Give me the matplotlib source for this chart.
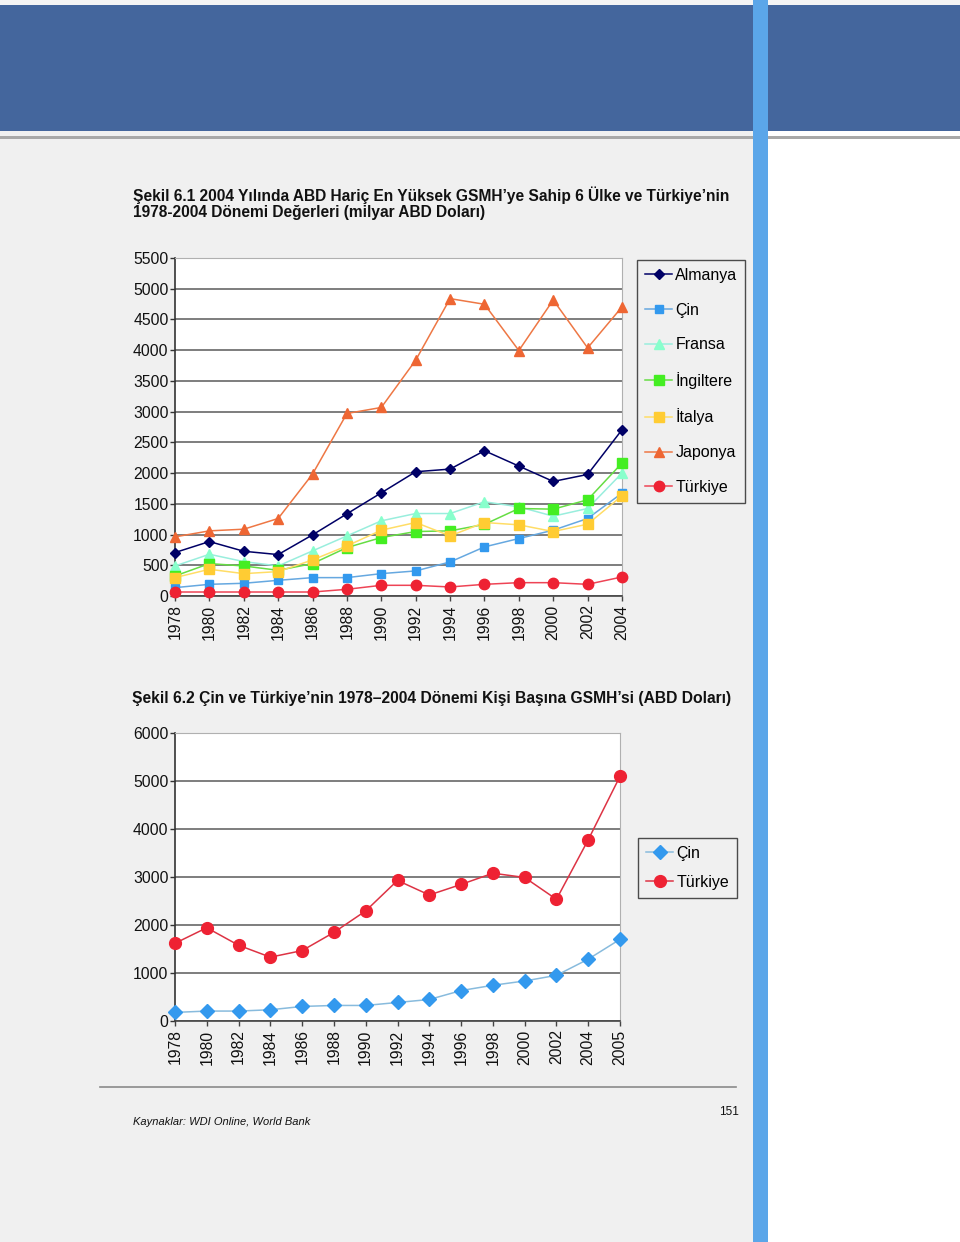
import matplotlib
matplotlib.use("Agg")
import matplotlib.pyplot as plt
from matplotlib.patches import Rectangle

plt.rcParams['font.family'] = ['Liberation Sans', 'DejaVu Sans']

# ---------------- data ----------------
years1 = ["1978", "1980", "1982", "1984", "1986", "1988", "1990",
          "1992", "1994", "1996", "1998", "2000", "2002", "2004"]
almanya = [707, 886, 728, 674, 995, 1337, 1679, 2022, 2065, 2364, 2114, 1864, 1978, 2705]
cin = [136, 190, 207, 255, 299, 299, 364, 408, 554, 799, 935, 1071, 1261, 1674]
fransa = [489, 679, 560, 489, 734, 978, 1223, 1342, 1342, 1533, 1451, 1299, 1424, 2000]
ingiltere = [326, 527, 489, 418, 527, 788, 951, 1049, 1060, 1165, 1424, 1413, 1565, 2163]
italya = [299, 435, 364, 397, 587, 815, 1071, 1196, 978, 1196, 1158, 1049, 1169, 1630]
japonya = [962, 1060, 1087, 1261, 1984, 2970, 3068, 3837, 4839, 4747, 3994, 4817, 4037, 4704]
turkiye = [65, 65, 65, 65, 65, 109, 174, 174, 147, 190, 217, 217, 190, 310]

years2 = ["1978", "1980", "1982", "1984", "1986", "1988", "1990", "1992",
          "1994", "1996", "1998", "2000", "2002", "2004", "2005"]
cin_pc = [179, 207, 207, 234, 303, 324, 324, 386, 448, 634, 744, 834, 951, 1288, 1701]
turkiye_pc = [1619, 1943, 1578, 1330, 1467, 1846, 2294, 2928, 2625, 2845, 3079, 2990, 2535, 3775, 5098]

W, H = 960, 1242
fig = plt.figure(figsize=(W / 100, H / 100), dpi=100, facecolor="#f0f0f0")

# ---------------- page background ----------------
bg = fig.add_axes([0, 0, 1, 1])
bg.set_xlim(0, W)
bg.set_ylim(H, 0)
bg.axis("off")
bg.add_patch(Rectangle((0, 0), W, 5, color="#f4f4f4", lw=0))
bg.add_patch(Rectangle((768, 131), W - 768, H - 131, color="white", lw=0))
bg.add_patch(Rectangle((0, 5), W, 126, color="#44669d", lw=0))
bg.add_patch(Rectangle((0, 136), W, 3, color="#a8a8a8", lw=0))
bg.add_patch(Rectangle((753, 0), 15, H, color="#5ba6e9", lw=0))
bg.plot([100, 736], [1087, 1087], color="#8a8a8a", lw=1.2)

bg.text(133, 195, "Şekil 6.1 2004 Yılında ABD Hariç En Yüksek GSMH\u2019ye Sahip 6 Ülke ve Türkiye\u2019nin",
        fontsize=11.2, fontweight="bold", va="center", ha="left", color="#111111")
bg.text(133, 213, "1978-2004 Dönemi Değerleri (milyar ABD Doları)",
        fontsize=11.2, fontweight="bold", va="center", ha="left", color="#111111")
bg.text(132, 698, "Şekil 6.2 Çin ve Türkiye\u2019nin 1978\u20132004 Dönemi Kişi Başına GSMH\u2019si (ABD Doları)",
        fontsize=11.25, fontweight="bold", va="center", ha="left", color="#111111")
bg.text(133, 1122, "Kaynaklar: WDI Online, World Bank", fontsize=8, style="italic",
        va="center", ha="left", color="#111111")
bg.text(739, 1112, "151", fontsize=8.5, va="center", ha="right", color="#111111")


def style_axes(ax, ymax, step, labels):
    ax.set_facecolor("white")
    n = len(labels)
    ax.set_xlim(0, n - 1)
    ax.set_ylim(0, ymax)
    ax.set_xticks(range(n))
    ax.set_xticklabels(labels, rotation=90, fontsize=11.3)
    ax.set_yticks(range(0, ymax + 1, step))
    ax.set_yticklabels([str(v) for v in range(0, ymax + 1, step)], fontsize=11.3)
    ax.yaxis.grid(True, color="#5a5a5a", lw=1.1)
    ax.set_axisbelow(True)
    for s in ["top", "right"]:
        ax.spines[s].set_color("#b0b0b0")
        ax.spines[s].set_linewidth(0.8)
    ax.spines["left"].set_color("#333333")
    ax.spines["left"].set_linewidth(1.2)
    ax.spines["bottom"].set_color("#444444")
    ax.spines["bottom"].set_linewidth(1.2)
    ax.tick_params(axis="y", length=3.6, width=1, color="#333333", pad=1.0, labelcolor="#111111")
    ax.tick_params(axis="x", length=3.6, width=1, color="#444444", pad=2.5, labelcolor="#111111")


# ---------------- chart 1 ----------------
ax1 = fig.add_axes([175 / W, 1 - 596 / H, 447 / W, 338 / H])
style_axes(ax1, 5500, 500, years1)
x1 = range(len(years1))
series1 = [
    ("Almanya", almanya, "#000066", "#000066", "D", 5),
    ("Çin", cin, "#66a8e0", "#3399ee", "s", 5.5),
    ("Fransa", fransa, "#99eedd", "#88ffcc", "^", 7),
    ("İngiltere", ingiltere, "#66dd44", "#44ee22", "s", 7.5),
    ("İtalya", italya, "#ffdd66", "#ffcc33", "s", 7.5),
    ("Japonya", japonya, "#ee7744", "#ee6633", "^", 7),
    ("Türkiye", turkiye, "#ee4455", "#ee2233", "o", 7.5),
]
handles1 = []
for name, vals, lc, mc, mk, ms in series1:
    h, = ax1.plot(x1, vals, color=lc, lw=1.1, marker=mk, markersize=ms,
                  markerfacecolor=mc, markeredgecolor=mc, clip_on=False, label=name, zorder=3)
    handles1.append(h)
leg1 = fig.legend(handles=handles1, loc="upper left",
                  bbox_to_anchor=(637 / W, 1 - 260 / H), frameon=True, fancybox=False,
                  fontsize=11.5, labelspacing=1.23, handlelength=1.7, handletextpad=0.2,
                  borderpad=0.5, borderaxespad=0)
leg1.get_frame().set_edgecolor("#222222")
leg1.get_frame().set_facecolor("#f0f0f0")
leg1.get_frame().set_linewidth(1)

# ---------------- chart 2 ----------------
ax2 = fig.add_axes([175 / W, 1 - 1021 / H, 445 / W, 288 / H])
style_axes(ax2, 6000, 1000, years2)
x2 = range(len(years2))
h_c, = ax2.plot(x2, cin_pc, color="#88bbdd", lw=1.1, marker="D", markersize=7,
                markerfacecolor="#3399ee", markeredgecolor="#3399ee", clip_on=False,
                label="Çin", zorder=3)
h_t, = ax2.plot(x2, turkiye_pc, color="#dd3344", lw=1.1, marker="o", markersize=8.5,
                markerfacecolor="#ee2233", markeredgecolor="#ee2233", clip_on=False,
                label="Türkiye", zorder=3)
leg2 = fig.legend(handles=[h_c, h_t], loc="upper left",
                  bbox_to_anchor=(638 / W, 1 - 838 / H), frameon=True, fancybox=False,
                  fontsize=11.5, labelspacing=0.85, handlelength=1.7, handletextpad=0.2,
                  borderpad=0.5, borderaxespad=0)
leg2.get_frame().set_edgecolor("#222222")
leg2.get_frame().set_facecolor("#f0f0f0")
leg2.get_frame().set_linewidth(1)

fig.savefig("out.png", dpi=100, facecolor=fig.get_facecolor())
